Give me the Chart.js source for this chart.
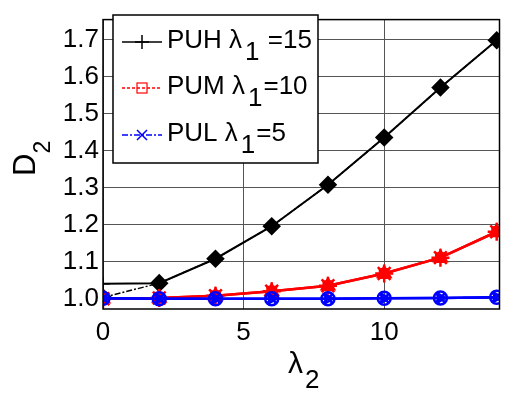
<!DOCTYPE html>
<html>
<head>
<meta charset="utf-8">
<script src="https://cdn.jsdelivr.net/npm/chart.js@4/dist/chart.umd.min.js"></script>
<style>
  html, body { margin: 0; padding: 0; background: #fff; }
  #wrap { width: 511px; height: 394px; position: relative; }
</style>
</head>
<body>
<div id="wrap"><canvas id="c" width="511" height="394"></canvas></div>
<script>
// data
let lambda2 = [0, 2, 4, 6, 8, 10, 12, 14];
let puhCross = [1.040, 1.042, 1.108, 1.196, 1.308, 1.436, 1.571, 1.699];
let puhDiamond = [1.003, 1.042, 1.108, 1.196, 1.308, 1.436, 1.571, 1.699];
let pumVals = [1.000, 1.002, 1.008, 1.020, 1.035, 1.068, 1.111, 1.181];
let pulVals = [1.001, 1.000, 1.000, 1.000, 1.000, 1.001, 1.002, 1.004];
let xTicks = [0, 5, 10];
let yTicks = [1.0, 1.1, 1.2, 1.3, 1.4, 1.5, 1.6, 1.7];
let yTickLabels = ['1.0', '1.1', '1.2', '1.3', '1.4', '1.5', '1.6', '1.7'];
let legendNames = ['PUH \u03bb', 'PUM \u03bb', 'PUL \u03bb'];
let legendTails = [' =15', '=10', '=5'];

const FONT = '"Liberation Sans", Arial, sans-serif';

let pts = (ys) => lambda2.map((x, i) => ({ x: x, y: ys[i] }));

let mk = (data, color, style, opts) => Object.assign({
  data: pts(data),
  borderColor: color,
  backgroundColor: 'rgba(0,0,0,0)',
  pointBorderColor: color,
  pointBackgroundColor: 'rgba(0,0,0,0)',
  pointStyle: style,
  pointRadius: 6,
  pointBorderWidth: 2.5,
  borderWidth: 2.5,
  tension: 0
}, opts || {});

let datasets = [
  // blue group (on top)
  mk(pulVals, '#0000ff', 'circle', { order: 0, pointRadius: 6.5 }),
  mk(pulVals, '#0000ff', 'triangle', { order: 0, pointRotation: 90, pointRadius: 5 }),
  mk(pulVals, '#0000ff', 'crossRot', { order: 0, borderDash: [6, 2, 2, 2], borderWidth: 1.5 }),
  // red group
  mk(pumVals, '#ff0000', 'star', { order: 1, pointRadius: 9 }),
  mk(pumVals, '#ff0000', 'triangle', { order: 1, pointRadius: 7 }),
  mk(pumVals, '#ff0000', 'rect', { order: 1, borderDash: [2, 2], borderWidth: 1.5, pointRadius: 6 }),
  // black group
  mk(puhDiamond, '#000000', 'rectRot', { order: 2, borderDash: [6, 2, 2, 2], borderWidth: 1.5,
    pointBackgroundColor: '#000', pointRadius: 7.5, pointBorderWidth: 2.5 }),
  mk(puhCross, '#000000', 'cross', { order: 2, pointRadius: 7, pointBorderWidth: 1.5, borderWidth: 2 })
];

// frame, legend and axis titles drawn on top
let extras = {
  id: 'extras',
  afterDraw(chart) {
    const ctx = chart.ctx;
    const a = chart.chartArea;
    ctx.save();
    ctx.strokeStyle = '#000';
    ctx.lineWidth = 1.5;
    ctx.strokeRect(a.left, a.top, a.right - a.left, a.bottom - a.top);

    // legend box
    ctx.fillStyle = '#fff';
    ctx.fillRect(113, 15, 205, 148);
    ctx.lineWidth = 1.5;
    ctx.strokeRect(113, 15, 205, 148);

    const rows = [48, 94, 141];
    const colors = ['#000000', '#ff0000', '#0000ff'];
    const dashes = [[], [3, 2], [6, 2, 2, 2]];
    rows.forEach((base, i) => {
      const ly = base - 6;
      ctx.strokeStyle = colors[i];
      ctx.lineWidth = 1.5;
      ctx.setLineDash(dashes[i]);
      ctx.beginPath(); ctx.moveTo(122, ly); ctx.lineTo(162, ly); ctx.stroke();
      ctx.setLineDash([]);
      ctx.beginPath();
      if (i === 0) {
        ctx.moveTo(142, ly - 7); ctx.lineTo(142, ly + 7);
        ctx.moveTo(135, ly); ctx.lineTo(149, ly);
        ctx.stroke();
      } else if (i === 1) {
        ctx.lineWidth = 1.2;
        ctx.strokeRect(137, ly - 5, 10, 10);
      } else {
        ctx.moveTo(137, ly - 5); ctx.lineTo(147, ly + 5);
        ctx.moveTo(147, ly - 5); ctx.lineTo(137, ly + 5);
        ctx.stroke();
      }
      ctx.fillStyle = '#000';
      ctx.font = '26px ' + FONT;
      ctx.textAlign = 'left';
      ctx.textBaseline = 'alphabetic';
      let x = 167;
      ctx.fillText(legendNames[i], x, base);
      x += ctx.measureText(legendNames[i]).width + 3;
      ctx.fillText('1', x, base + 12);
      x += ctx.measureText('1').width + 1;
      ctx.fillText(legendTails[i], x, base);
    });

    // x axis title
    ctx.fillStyle = '#000';
    ctx.font = '30px ' + FONT;
    ctx.textAlign = 'left';
    ctx.fillText('\u03bb', 288, 373);
    ctx.font = '26px ' + FONT;
    ctx.fillText('2', 305, 388);

    // y axis title
    ctx.save();
    ctx.translate(35, 176);
    ctx.rotate(-Math.PI / 2);
    ctx.font = '31px ' + FONT;
    ctx.fillText('D', 0, 0);
    const w = ctx.measureText('D').width;
    ctx.font = '23px ' + FONT;
    ctx.fillText('2', w, 15);
    ctx.restore();
    ctx.restore();
  }
};

new Chart(document.getElementById('c'), {
  type: 'line',
  data: { datasets: datasets },
  options: {
    responsive: false,
    animation: false,
    devicePixelRatio: 1,
    layout: { padding: { top: 5, right: 2, left: 0, bottom: 0 } },
    plugins: { legend: { display: false }, tooltip: { enabled: false } },
    scales: {
      x: {
        type: 'linear',
        min: 0,
        max: 14.1,
        afterBuildTicks: (s) => { s.ticks = xTicks.map(v => ({ value: v })); },
        afterFit: (s) => { s.height = 85; },
        grid: { color: '#555', lineWidth: 1, drawTicks: false },
        border: { display: false },
        ticks: { color: '#000', font: { family: FONT, size: 26 }, padding: 8, maxRotation: 0 }
      },
      y: {
        type: 'linear',
        min: 0.972,
        max: 1.755,
        afterBuildTicks: (s) => { s.ticks = yTicks.map(v => ({ value: v })); },
        afterFit: (s) => { s.width = 103; },
        grid: { color: '#555', lineWidth: 1, drawTicks: false },
        border: { display: false },
        ticks: {
          color: '#000', font: { family: FONT, size: 26 }, padding: 4,
          callback: (v) => {
            const i = yTicks.findIndex(t => Math.abs(t - v) < 1e-6);
            return i >= 0 ? yTickLabels[i] : '';
          }
        }
      }
    }
  },
  plugins: [extras]
});
</script>
</body>
</html>
